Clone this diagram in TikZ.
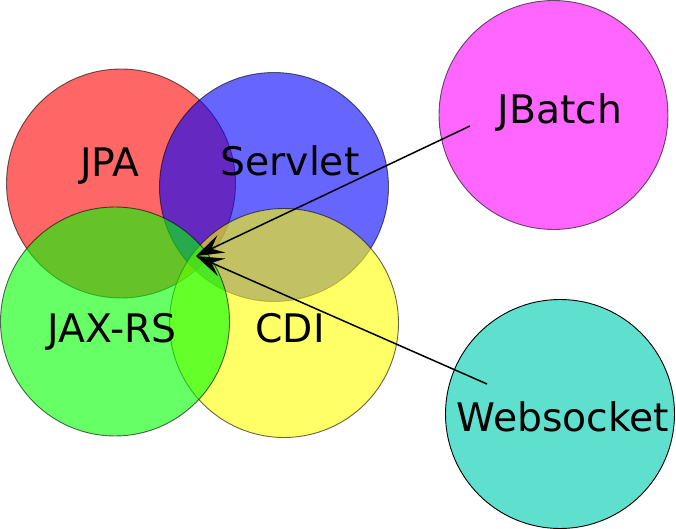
\documentclass[tikz,border=0pt]{standalone}
\usepackage{xcolor}
\usepackage{fontspec}
\setmainfont{DejaVu Sans}
\usetikzlibrary{arrows.meta}
\definecolor{jpared}{RGB}{255,0,0}
\definecolor{servblue}{RGB}{0,0,255}
\definecolor{cdiyellow}{RGB}{255,255,0}
\definecolor{rsgreen}{RGB}{0,255,0}
\definecolor{jbmagenta}{RGB}{255,0,255}
\definecolor{tealws}{RGB}{95,224,206}
\tikzset{
  spec/.style={circle,draw=black,line width=0.9pt,minimum size=229pt,inner sep=0pt,opacity=0.6},
  lbl/.style={anchor=base,inner sep=0pt,font=\fontsize{39.3}{46}\selectfont},
  link/.style={line width=1.5pt,-{Stealth[length=28pt,width=19pt,inset=11pt]}}
}
\begin{document}
\begin{tikzpicture}[x=1pt,y=1pt]
\useasboundingbox (0,0) rectangle (676,529);
\node[spec,fill=jpared] (jpa) at (121,345.5) {};
\node[spec,fill=servblue] (servlet) at (274,342) {};
\node[spec,fill=cdiyellow] (cdi) at (284,206) {};
\node[spec,fill=rsgreen] (jaxrs) at (115,207.5) {};
\node[spec,fill=jbmagenta] (jbatch) at (553.5,414) {};
\node[spec,fill=tealws,opacity=1] (websocket) at (560,115) {};

\node[lbl] (jpa-t) at (110,352) {JPA};
\node[lbl] (servlet-t) at (290,353) {Servlet};
\node[lbl] (jbatch-t) at (560,405) {JBatch};
\node[lbl] (jaxrs-t) at (112,186) {JAX-RS};
\node[lbl] (cdi-t) at (290,186) {CDI};
\node[lbl] (websocket-t) at (563,97) {Websocket};

\coordinate (hub) at (196,273);
\coordinate (jb-tail) at (470,403);
\coordinate (ws-tail) at (487,145);
\draw[link] (jb-tail) -- (hub);
\draw[link] (ws-tail) -- (hub);
\end{tikzpicture}
\end{document}
